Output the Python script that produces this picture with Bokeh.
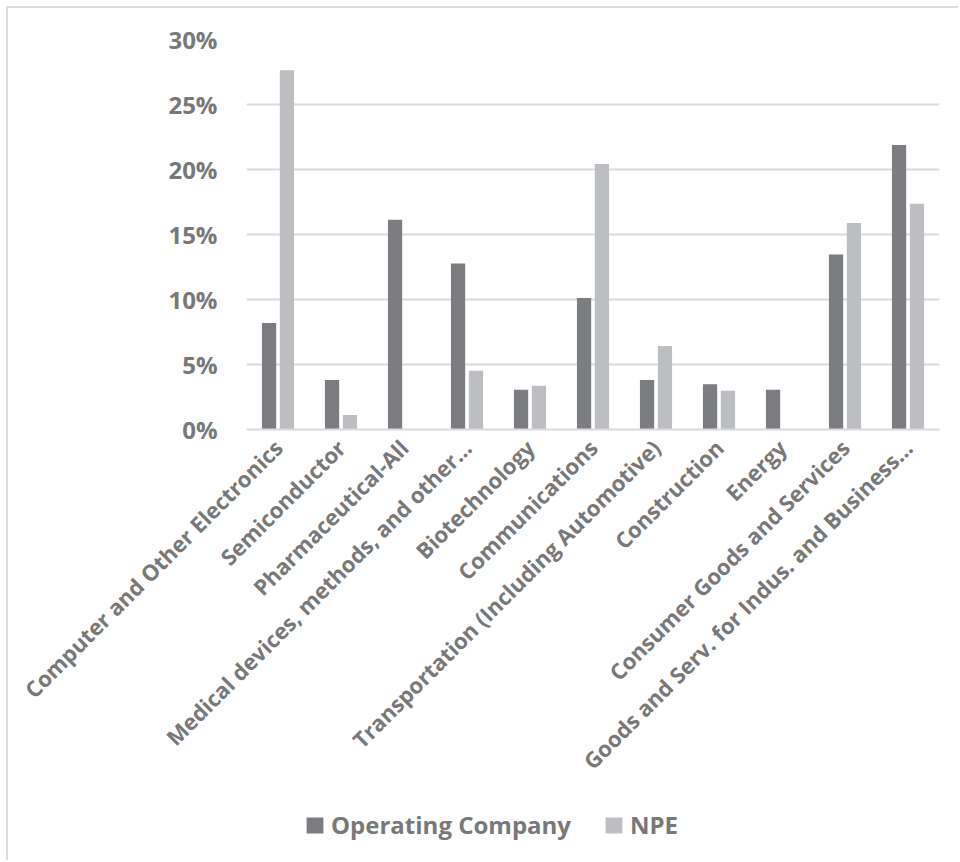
import math
from bokeh.plotting import figure
from bokeh.layouts import column
from bokeh.models import ColumnDataSource, FactorRange, FixedTicker, NumeralTickFormatter, Legend, LegendItem
from bokeh.transform import dodge
from bokeh.embed import file_html
from bokeh.resources import INLINE

categories = [
    "Computer and Other Electronics",
    "Semiconductor",
    "Pharmaceutical-All",
    "Medical devices, methods, and other…",
    "Biotechnology",
    "Communications",
    "Transportation (Including Automotive)",
    "Construction",
    "Energy",
    "Consumer Goods and Services",
    "Goods and Serv. for Indus. and Business…",
]
operating_company = [0.0819, 0.0380, 0.1614, 0.1276, 0.0306, 0.1011, 0.0380, 0.0349, 0.0306, 0.1347, 0.2189]
npe = [0.2764, 0.0111, 0.0, 0.0452, 0.0336, 0.2043, 0.0642, 0.0298, 0.0, 0.1589, 0.1737]
y_ticks = [0, 0.05, 0.10, 0.15, 0.20, 0.25, 0.30]
series_names = ["Operating Company", "NPE"]

TEXT = "#787878"
FONT = "Open Sans"
C_OC = "#7c7d81"
C_NPE = "#bdbec2"

src = ColumnDataSource(dict(cat=categories, oc=operating_company, npe=npe))

OFF = 8  # margin + border
W = 950
H1 = 782
H2 = 70

p = figure(
    x_range=FactorRange(*categories, range_padding=0),
    y_range=(0, 0.30),
    width=W, height=H1,
    output_backend="svg", toolbar_location=None,
    min_border_left=246 - OFF, min_border_right=OFF + W - 939,
    min_border_top=39 - OFF, min_border_bottom=H1 - (429 - OFF),
)

p.vbar(x=dodge("cat", -0.142, range=p.x_range), top="oc", width=0.226, source=src,
       fill_color=C_OC, line_color=None)
p.vbar(x=dodge("cat", 0.142, range=p.x_range), top="npe", width=0.226, source=src,
       fill_color=C_NPE, line_color=None)

p.outline_line_color = None
p.xgrid.grid_line_color = None
p.ygrid.grid_line_color = "#d9d9d9"
p.ygrid.grid_line_width = 2

p.yaxis.ticker = FixedTicker(ticks=y_ticks)
p.yaxis.formatter = NumeralTickFormatter(format="0%")
p.yaxis.axis_line_color = None
p.yaxis.major_tick_line_color = None
p.yaxis.minor_tick_line_color = None
p.yaxis.major_label_text_font = FONT
p.yaxis.major_label_text_font_style = "bold"
p.yaxis.major_label_text_font_size = "24px"
p.yaxis.major_label_text_color = TEXT
p.yaxis.major_label_standoff = 23

p.xaxis.axis_line_color = "#d9d9d9"
p.xaxis.axis_line_width = 2
p.xaxis.major_tick_line_color = None
p.xaxis.minor_tick_line_color = None
p.xaxis.major_label_orientation = math.pi / 4
p.xaxis.major_label_text_font = FONT
p.xaxis.major_label_text_font_style = "bold"
p.xaxis.major_label_text_font_size = "22px"
p.xaxis.major_label_text_color = TEXT
p.xaxis.major_label_standoff = 8

# legend strip below the chart (frames are aligned by the column layout)
p2 = figure(width=W, height=H2, x_range=(0, 1), y_range=(0, 1),
            output_backend="svg", toolbar_location=None,
            min_border=0)
p2.axis.visible = False
p2.grid.grid_line_color = None
p2.outline_line_color = None
hidden = ColumnDataSource(dict(x=[0.5], top=[0.0]))
l1 = p2.vbar(x="x", top="top", width=0.0, source=hidden, fill_color=C_OC, line_color=None)
l2 = p2.vbar(x="x", top="top", width=0.0, source=hidden, fill_color=C_NPE, line_color=None)

legend = Legend(
    items=[LegendItem(label=series_names[0], renderers=[l1]),
           LegendItem(label=series_names[1], renderers=[l2])],
    orientation="horizontal",
    location=(58, 19),
    label_text_font=FONT, label_text_font_style="bold", label_text_font_size="24px",
    label_text_color=TEXT,
    glyph_width=21, glyph_height=20, spacing=32, label_standoff=6,
    padding=0, margin=0, border_line_color=None, background_fill_alpha=0,
)
p2.add_layout(legend, "center")

layout = column(p, p2, spacing=0,
                styles={"border-top": "2px solid #dcdcdc", "border-left": "2px solid #dcdcdc",
                        "margin-left": "6px", "margin-top": "6px"})

open("out.html", "w").write(file_html(layout, INLINE))
